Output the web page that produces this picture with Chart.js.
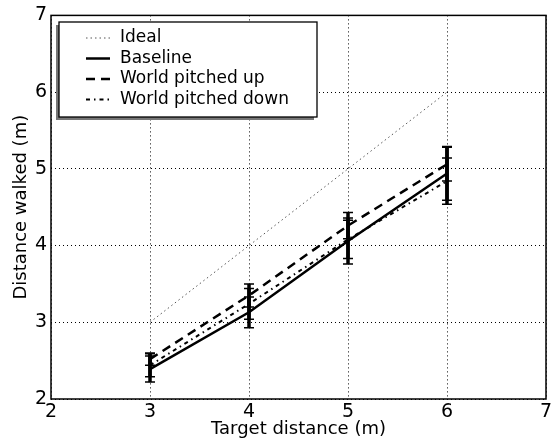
<!DOCTYPE html>
<html>
<head>
<meta charset="utf-8">
<script src="https://cdn.jsdelivr.net/npm/chart.js@4/dist/chart.umd.min.js"></script>
<style>
  html, body { margin: 0; padding: 0; background: #fff; }
  canvas { display: block; }
</style>
</head>
<body>
<canvas id="walkChart" width="556" height="443"></canvas>
<script>
// Chart data
const targets = [3, 4, 5, 6];
const idealX = [3, 6];
const idealY = [3, 6];
const baseline = [2.39, 3.13, 4.06, 4.94];
const baselineErr = [0.17, 0.2, 0.3, 0.35];
const pitchedUp = [2.52, 3.35, 4.26, 5.06];
const pitchedUpErr = [0.08, 0.15, 0.17, 0.22];
const pitchedDown = [2.44, 3.24, 4.08, 4.84];
const pitchedDownErr = [0.15, 0.2, 0.25, 0.3];
const xTicks = [2, 3, 4, 5, 6, 7];
const yTicks = [2, 3, 4, 5, 6, 7];

Chart.defaults.font.family = "'DejaVu Sans', sans-serif";
Chart.defaults.color = '#000';

const toPoints = (xs, ys) => xs.map((x, i) => ({ x: x, y: ys[i] }));

// Draws vertical error bars with caps for datasets carrying an "errors" array
const errorBars = {
  id: 'errorBars',
  afterDatasetsDraw(chart) {
    const { ctx, scales: { x, y } } = chart;
    ctx.save();
    ctx.strokeStyle = '#000';
    ctx.setLineDash([]);
    chart.data.datasets.forEach(ds => {
      if (!ds.errors) return;
      ds.data.forEach((p, i) => {
        const px = x.getPixelForValue(p.x);
        const top = y.getPixelForValue(p.y + ds.errors[i]);
        const bot = y.getPixelForValue(p.y - ds.errors[i]);
        ctx.lineWidth = 3.5;
        ctx.beginPath();
        ctx.moveTo(px, top);
        ctx.lineTo(px, bot);
        ctx.stroke();
        ctx.lineWidth = 1.5;
        ctx.beginPath();
        ctx.moveTo(px - 5, top); ctx.lineTo(px + 5, top);
        ctx.moveTo(px - 5, bot); ctx.lineTo(px + 5, bot);
        ctx.stroke();
      });
    });
    ctx.restore();
  }
};

// Frame around the plot area plus the boxed legend in the upper left
const frameAndLegend = {
  id: 'frameAndLegend',
  afterDraw(chart) {
    const { ctx, chartArea: a } = chart;
    ctx.save();
    ctx.setLineDash([]);
    ctx.strokeStyle = '#000';
    ctx.lineWidth = 1.5;
    ctx.strokeRect(a.left, a.top, a.right - a.left, a.bottom - a.top);

    // legend box
    const bx = 59, by = 22, bw = 258, bh = 95;
    ctx.fillStyle = '#777';
    ctx.fillRect(bx - 3, by + 3, bw, bh);
    ctx.fillStyle = '#fff';
    ctx.fillRect(bx, by, bw, bh);
    ctx.lineWidth = 1.3;
    ctx.strokeRect(bx, by, bw, bh);

    ctx.font = "17px 'DejaVu Sans'";
    ctx.textBaseline = 'middle';
    chart.data.datasets.forEach((ds, i) => {
      const ry = by + 16 + i * 20.5;
      ctx.strokeStyle = ds.borderColor;
      ctx.lineWidth = ds.borderWidth;
      ctx.setLineDash(ds.borderDash || []);
      ctx.beginPath();
      ctx.moveTo(86, ry);
      ctx.lineTo(110, ry);
      ctx.stroke();
      ctx.fillStyle = '#000';
      ctx.fillText(ds.label, 120, ry);
    });
    ctx.restore();
  }
};

const ctx = document.getElementById('walkChart').getContext('2d');
new Chart(ctx, {
  type: 'line',
  data: {
    datasets: [
      {
        label: 'Ideal',
        data: toPoints(idealX, idealY),
        borderColor: '#555',
        borderWidth: 1,
        borderDash: [1.5, 3],
        pointRadius: 0
      },
      {
        label: 'Baseline',
        data: toPoints(targets, baseline),
        errors: baselineErr,
        borderColor: '#000',
        borderWidth: 2.5,
        borderDash: [],
        pointRadius: 0
      },
      {
        label: 'World pitched up',
        data: toPoints(targets, pitchedUp),
        errors: pitchedUpErr,
        borderColor: '#000',
        borderWidth: 2.5,
        borderDash: [9, 6],
        pointRadius: 0
      },
      {
        label: 'World pitched down',
        data: toPoints(targets, pitchedDown),
        errors: pitchedDownErr,
        borderColor: '#000',
        borderWidth: 2,
        borderDash: [4, 4, 1.5, 4],
        pointRadius: 0
      }
    ]
  },
  options: {
    responsive: false,
    animation: false,
    layout: { padding: { top: 14, right: 10, left: 0, bottom: 0 } },
    plugins: { legend: { display: false }, tooltip: { enabled: false } },
    scales: {
      x: {
        type: 'linear',
        min: 2,
        max: 7,
        afterBuildTicks: s => { s.ticks = xTicks.map(v => ({ value: v })); },
        afterFit: s => { s.height = 44; },
        ticks: { font: { size: 19 }, color: '#000', padding: 2 },
        grid: { color: '#000', lineWidth: 1, drawTicks: false },
        border: { display: false, dash: [1, 3] },
        title: { display: true, text: 'Target distance (m)', font: { size: 18 }, color: '#000', padding: { top: 0, bottom: 3 } }
      },
      y: {
        min: 2,
        max: 7,
        afterBuildTicks: s => { s.ticks = yTicks.map(v => ({ value: v })); },
        afterFit: s => { s.width = 51; },
        ticks: { font: { size: 19 }, color: '#000', padding: 4 },
        grid: { color: '#000', lineWidth: 1, drawTicks: false },
        border: { display: false, dash: [1, 3] },
        title: { display: true, text: 'Distance walked (m)', font: { size: 18 }, color: '#000', padding: { top: 11, bottom: 0 } }
      }
    }
  },
  plugins: [errorBars, frameAndLegend]
});
</script>
</body>
</html>
